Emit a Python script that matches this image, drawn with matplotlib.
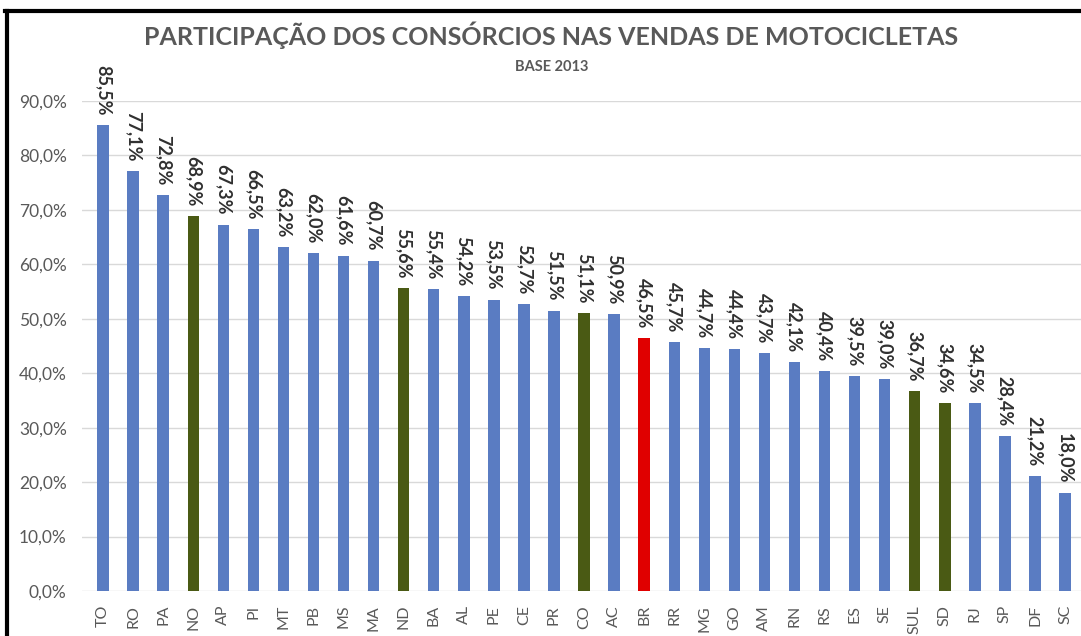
import matplotlib.pyplot as plt
from matplotlib.lines import Line2D

plt.rcParams['font.family'] = ['Lato', 'DejaVu Sans']

estados = ['TO', 'RO', 'PA', 'NO', 'AP', 'PI', 'MT', 'PB', 'MS', 'MA', 'ND',
           'BA', 'AL', 'PE', 'CE', 'PR', 'CO', 'AC', 'BR', 'RR', 'MG', 'GO',
           'AM', 'RN', 'RS', 'ES', 'SE', 'SUL', 'SD', 'RJ', 'SP', 'DF', 'SC']
participacao = [85.5, 77.1, 72.8, 68.9, 67.3, 66.5, 63.2, 62.0, 61.6, 60.7, 55.6,
                55.4, 54.2, 53.5, 52.7, 51.5, 51.1, 50.9, 46.5, 45.7, 44.7, 44.4,
                43.7, 42.1, 40.4, 39.5, 39.0, 36.7, 34.6, 34.5, 28.4, 21.2, 18.0]
regioes = ['NO', 'ND', 'CO', 'SUL', 'SD']

cores = []
for e in estados:
    if e == 'BR':
        cores.append('#E00000')
    elif e in regioes:
        cores.append('#4A5A14')
    else:
        cores.append('#5A7CC2')

fig = plt.figure(figsize=(10.81, 6.36), dpi=100)
ax = fig.add_axes([82 / 1081, 1 - 591 / 636, 1 - 82 / 1081, (591 - 101) / 636])

x = list(range(len(estados)))
ax.bar(x, participacao, width=0.38, color=cores, zorder=2)

for i, v in enumerate(participacao):
    txt = ('%.1f%%' % v).replace('.', ',')
    ax.annotate(txt, (i, v), xytext=(0, 7), textcoords='offset points',
                rotation=270, ha='center', va='bottom', fontsize=13,
                fontweight='bold', color='#303030', annotation_clip=False)

ax.set_ylim(0, 90)
ax.set_xlim(-0.7, 32.53)
ax.set_yticks(range(0, 91, 10))
ax.set_yticklabels([('%.1f%%' % t).replace('.', ',') for t in range(0, 91, 10)])
ax.set_xticks(x)
ax.set_xticklabels(estados, rotation=90, va='top')
ax.tick_params(axis='y', length=0, pad=11, labelsize=12.5, labelcolor='#595959')
ax.tick_params(axis='x', length=0, pad=10, labelsize=11.5, labelcolor='#595959')
ax.grid(axis='y', color='#D9D9D9', linewidth=1, zorder=0)
ax.set_axisbelow(True)
for s in ax.spines.values():
    s.set_visible(False)

fig.text(551 / 1081, 1 - 35 / 636, 'PARTICIPAÇÃO DOS CONSÓRCIOS NAS VENDAS DE MOTOCICLETAS',
         ha='center', va='center', fontsize=18, fontweight='bold', color='#595959')
fig.text(552 / 1081, 1 - 67 / 636, 'BASE 2013', ha='center', va='center',
         fontsize=10.5, fontweight='bold', color='#595959')

# moldura preta
fig.add_artist(Line2D([5 / 1081, 1], [1 - 11 / 636, 1 - 11 / 636], color='black', linewidth=3))
fig.add_artist(Line2D([7 / 1081, 7 / 1081], [0, 1 - 11 / 636], color='black', linewidth=3))

fig.savefig('out.png', dpi=100)
